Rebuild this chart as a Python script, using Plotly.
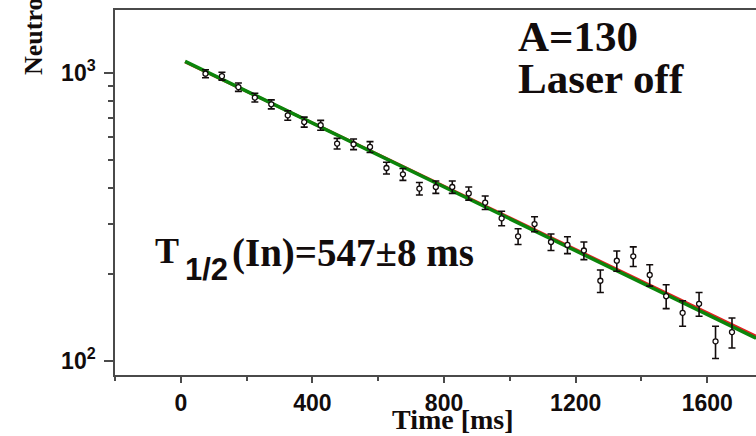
import plotly.graph_objects as go

# ---- data ----
time_ms = [75, 125, 175, 225, 275, 325, 375, 425, 475, 525, 575, 625, 675, 725, 775, 825,
           875, 925, 975, 1025, 1075, 1125, 1175, 1225, 1275, 1325, 1375, 1425, 1475, 1525,
           1575, 1625, 1675]
counts = [995, 976, 894, 822, 779, 713, 676, 659, 569, 566, 554, 468, 445, 397, 402, 402,
          382, 355, 313, 271, 299, 259, 253, 242, 190, 223, 231, 199, 168, 147,
          158, 117, 126]
count_err = [32, 31, 30, 29, 28, 27, 27, 26, 24, 24, 24, 22, 21, 20, 20, 20,
             20, 19, 18, 17, 18, 17, 17, 17, 17, 18, 18, 17, 16, 15,
             15, 15, 15]

fit_green_t = [13, 1748]
fit_green_n = [1098, 120]
fit_red_t = [13, 1748]
fit_red_n = [1094, 122]

x_tickvals = [0, 400, 800, 1200, 1600]
x_ticktext = ["0", "400", "800", "1200", "1600"]
y_tickvals = [100, 1000]
y_ticktext = ["10<sup>2</sup>", "10<sup>3</sup>"]
y_minor = [200, 300, 400, 500, 600, 700, 800, 900]

SERIF = "Liberation Serif, Times New Roman, serif"
SANS = "Liberation Sans, Arial, sans-serif"
INK = "#120c0c"
AXC = "#4a4a4a"

W, H = 756, 436
ML, MR, MT, MB = 115, 0, 10, 61
PW, PH = W - ML - MR, H - MT - MB


def px(x):
    return (x - ML) / PW


def py(y):
    return (H - MB - y) / PH


fig = go.Figure()
fig.add_trace(go.Scatter(x=fit_red_t, y=fit_red_n, mode="lines",
                         line=dict(color="#e02020", width=3), showlegend=False))
fig.add_trace(go.Scatter(x=fit_green_t, y=fit_green_n, mode="lines",
                         line=dict(color="#0b850b", width=3.5), showlegend=False))
fig.add_trace(go.Scatter(
    x=time_ms, y=counts, mode="markers",
    marker=dict(symbol="circle", size=5, color="white",
                line=dict(color=INK, width=1.3)),
    error_y=dict(type="data", array=count_err, visible=True,
                 color=INK, thickness=1.6, width=3.5),
    showlegend=False))

annotations = [
    dict(text="<b>A=130</b>", x=px(516), y=py(36), xanchor="left", yanchor="middle",
         font=dict(family=SERIF, size=43, color=INK)),
    dict(text="<b>Laser off</b>", x=px(516), y=py(78), xanchor="left", yanchor="middle",
         font=dict(family=SERIF, size=43, color=INK)),
    dict(text="<b>T</b>", x=px(153), y=py(251), xanchor="left", yanchor="middle",
         font=dict(family=SERIF, size=36, color=INK)),
    dict(text="<b>1/2</b>", x=px(183), y=py(269), xanchor="left", yanchor="middle",
         font=dict(family=SANS, size=31, color=INK)),
    dict(text="<b>(In)=547±8 ms</b>", x=px(230), y=py(253), xanchor="left", yanchor="middle",
         font=dict(family=SERIF, size=39, color=INK)),
    dict(text="<b>Time [ms]</b>", x=px(453), y=py(419), xanchor="center", yanchor="middle",
         font=dict(family=SERIF, size=28, color=INK)),
    dict(text="<b>Neutrons</b>", x=px(33), y=py(77), xanchor="center", yanchor="bottom",
         textangle=-90, font=dict(family=SERIF, size=26, color=INK)),
]
for a in annotations:
    a.update(xref="paper", yref="paper", showarrow=False)

fig.update_layout(
    width=W, height=H,
    margin=dict(l=ML, r=MR, t=MT, b=MB, pad=0),
    paper_bgcolor="white", plot_bgcolor="white",
    annotations=annotations,
    xaxis=dict(
        range=[-200, 1748], showgrid=False, zeroline=False,
        showline=True, linecolor=AXC, linewidth=1.5, mirror=True,
        tickmode="array", tickvals=x_tickvals, ticktext=x_ticktext,
        ticks="outside", ticklen=6, tickwidth=1.5, tickcolor=AXC,
        ticklabelstandoff=1,
        tickfont=dict(family=SANS, size=23, color=INK, weight="bold"),
        minor=dict(dtick=200, tick0=0, ticks="outside", ticklen=4,
                   tickwidth=1.5, tickcolor=AXC),
    ),
    yaxis=dict(
        type="log", range=[1.9514, 3.219], showgrid=False, zeroline=False,
        showline=True, linecolor=AXC, linewidth=1.5, mirror=False,
        tickmode="array", tickvals=y_tickvals, ticktext=y_ticktext,
        ticks="outside", ticklen=9, tickwidth=1.5, tickcolor=AXC,
        ticklabelstandoff=4,
        tickfont=dict(family=SANS, size=23, color=INK, weight="bold"),
        minor=dict(tickmode="array", tickvals=y_minor, ticks="outside",
                   ticklen=5, tickwidth=1.5, tickcolor=AXC),
    ),
)

fig.write_html("out.html")
